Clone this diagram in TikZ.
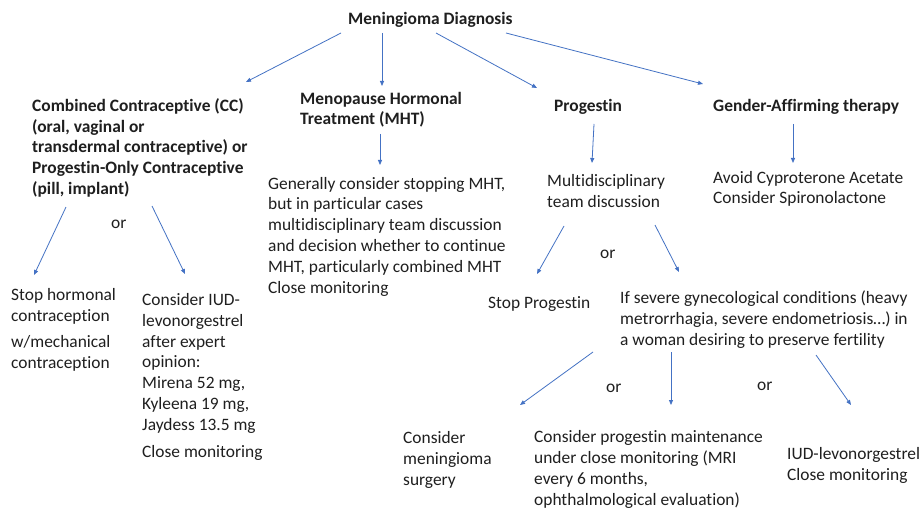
\documentclass[tikz,border=0pt]{standalone}
\usepackage{fontspec}
\setmainfont[Ligatures=NoCommon]{Carlito}
\usetikzlibrary{arrows.meta}
\definecolor{arrowblue}{RGB}{68,114,196}
\tikzset{
  txt/.style={anchor=base west, align=left, inner sep=0pt, text=black!88,
    font=\fontsize{17.4}{20.8}\selectfont},
  hdr/.style={txt, font=\fontsize{17.4}{20.6}\selectfont\bfseries},
  arr/.style={draw=arrowblue, line width=0.8pt, -{Triangle[length=5pt,width=4pt]}}
}
\begin{document}
\begin{tikzpicture}[x=1pt,y=-1pt]
  \useasboundingbox[fill=white] (0,0) rectangle (921,508);
  % first level (nodes sit on the baseline of their last line)
  \node[hdr] (diag) at (348,25) {Meningioma Diagnosis};
  \node[hdr] (cc) at (32,194) {Combined Contraceptive (CC)\\(oral, vaginal or\\transdermal contraceptive) or\\Progestin-Only Contraceptive\\(pill, implant)};
  \node[hdr] (mht) at (300,125) {Menopause Hormonal\\Treatment (MHT)};
  \node[hdr] (prog) at (554,112) {Progestin};
  \node[hdr] (gat) at (713,112) {Gender-Affirming therapy};
  % second level
  \node[txt] (gen) at (268,293) {Generally consider stopping MHT,\\but in particular cases\\multidisciplinary team discussion\\and decision whether to continue\\MHT, particularly combined MHT\\Close monitoring};
  \node[txt] (mdt) at (547,207) {Multidisciplinary\\team discussion};
  \node[txt] (avoid) at (713,204) {Avoid Cyproterone Acetate\\Consider Spironolactone};
  \node[txt] (stop) at (11,368) {Stop hormonal\\contraception\\[5pt]w/mechanical\\contraception};
  \node[txt] (iud) at (142,457) {Consider IUD-\\levonorgestrel\\after expert\\opinion:\\Mirena 52 mg,\\Kyleena 19 mg,\\Jaydess 13.5 mg\\[6pt]Close monitoring};
  \node[txt] (stopp) at (488,308) {Stop Progestin};
  \node[txt] (sev) at (620,345) {If severe gynecological conditions (heavy\\metrorrhagia, severe endometriosis…) in\\a woman desiring to preserve fertility};
  % third level
  \node[txt] (surg) at (403,485) {Consider\\meningioma\\surgery};
  \node[txt] (maint) at (534,505) {Consider progestin maintenance\\under close monitoring (MRI\\every 6 months,\\ophthalmological evaluation)};
  \node[txt] (iudc) at (787,480) {IUD-levonorgestrel\\Close monitoring};
  % alternatives
  \node[txt] (or1) at (111,228) {or};
  \node[txt] (or2) at (600,258) {or};
  \node[txt] (or3) at (606,392) {or};
  \node[txt] (or4) at (757,390) {or};
  % connectors
  \draw[arr] ([shift={(-7,8)}]diag.base west) -- ([shift={(214,-112)}]cc.base west);
  \draw[arr] ([shift={(34,8)}]diag.base west) -- ([shift={(82,-39)}]mht.base west);
  \draw[arr] ([shift={(88,8)}]diag.base west) -- ([shift={(-17,-24)}]prog.base west);
  \draw[arr] ([shift={(158,8)}]diag.base west) -- ([shift={(-10,-28)}]gat.base west);
  \draw[arr] ([shift={(80,9)}]mht.base west) -- ([shift={(112,-128)}]gen.base west);
  \draw[arr] ([shift={(40,12)}]prog.base west) -- ([shift={(45,-44)}]mdt.base west);
  \draw[arr] ([shift={(80,12)}]gat.base west) -- ([shift={(80,-41)}]avoid.base west);
  \draw[arr] ([shift={(34,13)}]cc.base west) -- ([shift={(23,-93)}]stop.base west);
  \draw[arr] ([shift={(120,12)}]cc.base west) -- ([shift={(43,-183)}]iud.base west);
  \draw[arr] ([shift={(17,19)}]mdt.base west) -- ([shift={(49,-34)}]stopp.base west);
  \draw[arr] ([shift={(108,18)}]mdt.base west) -- ([shift={(59,-73)}]sev.base west);
  \draw[arr] ([shift={(-27,7)}]sev.base west) -- ([shift={(117,-80)}]surg.base west);
  \draw[arr] ([shift={(51,7)}]sev.base west) -- ([shift={(137,-100)}]maint.base west);
  \draw[arr] ([shift={(196,10)}]sev.base west) -- ([shift={(64,-75)}]iudc.base west);
\end{tikzpicture}
\end{document}
